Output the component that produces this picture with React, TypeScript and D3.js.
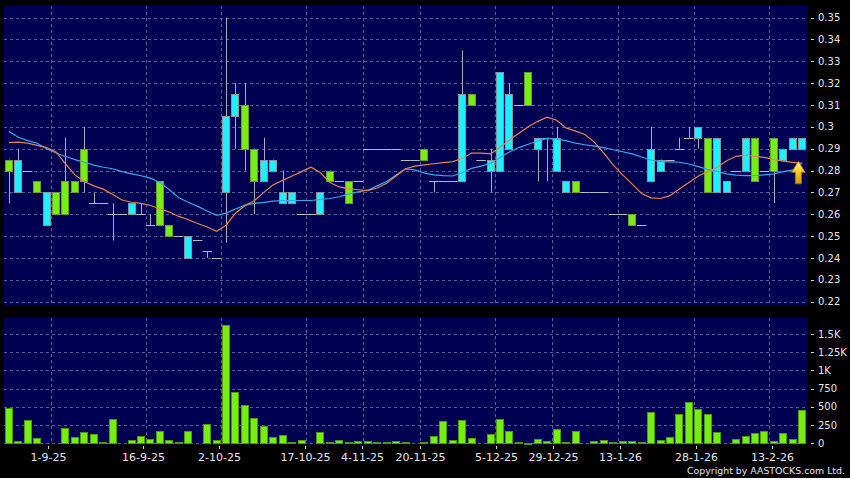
import React from 'react';
import * as d3 from 'd3';

// ---- data ----
const opens = [
  0.285, 0.27, 0.28, 0.275, 0.255, 0.27, 0.275, 0.275, 0.29, 0.265,
  0.265, 0.26, 0.26, 0.26, 0.26, 0.255, 0.275, 0.255, 0.25, 0.24,
  0.248, 0.243, 0.24, 0.27, 0.305, 0.31, 0.29, 0.275, 0.28, 0.265,
  0.265, 0.26, 0.26, 0.26, 0.28, 0.275, 0.275, 0.275, 0.29, 0.29,
  0.29, 0.29, 0.285, 0.285, 0.29, 0.275, 0.275, 0.275, 0.275, 0.315,
  0.285, 0.28, 0.28, 0.29, 0.31, 0.325, 0.29, 0.295, 0.28, 0.27,
  0.275, 0.27, 0.27, 0.27, 0.26, 0.26, 0.26, 0.255, 0.275, 0.28,
  0.285, 0.29, 0.295, 0.295, 0.295, 0.27, 0.27, 0.28, 0.28, 0.295,
  0.28, 0.295, 0.285, 0.29, 0.29,
];
const closes = [
  0.28, 0.285, 0.28, 0.27, 0.27, 0.26, 0.26, 0.27, 0.275, 0.265,
  0.265, 0.26, 0.26, 0.265, 0.26, 0.255, 0.255, 0.25, 0.25, 0.25,
  0.248, 0.243, 0.24, 0.305, 0.315, 0.29, 0.275, 0.285, 0.285, 0.27,
  0.27, 0.26, 0.26, 0.27, 0.275, 0.275, 0.265, 0.275, 0.29, 0.29,
  0.29, 0.29, 0.285, 0.285, 0.285, 0.275, 0.275, 0.275, 0.315, 0.31,
  0.285, 0.285, 0.325, 0.315, 0.31, 0.31, 0.295, 0.295, 0.295, 0.275,
  0.27, 0.27, 0.27, 0.27, 0.26, 0.26, 0.255, 0.255, 0.29, 0.285,
  0.285, 0.29, 0.295, 0.3, 0.27, 0.295, 0.275, 0.28, 0.295, 0.275,
  0.28, 0.28, 0.29, 0.295, 0.295,
];
const highs = [
  0.285, 0.29, 0.28, 0.275, 0.27, 0.27, 0.295, 0.275, 0.3, 0.27,
  0.265, 0.265, 0.26, 0.265, 0.265, 0.26, 0.275, 0.255, 0.25, 0.25,
  0.248, 0.243, 0.24, 0.35, 0.32, 0.32, 0.29, 0.295, 0.285, 0.28,
  0.27, 0.26, 0.26, 0.27, 0.28, 0.275, 0.275, 0.275, 0.29, 0.29,
  0.29, 0.29, 0.285, 0.285, 0.29, 0.275, 0.275, 0.275, 0.335, 0.315,
  0.285, 0.29, 0.325, 0.32, 0.31, 0.325, 0.295, 0.295, 0.3, 0.275,
  0.275, 0.27, 0.27, 0.27, 0.26, 0.26, 0.26, 0.255, 0.3, 0.285,
  0.285, 0.295, 0.3, 0.3, 0.295, 0.295, 0.275, 0.28, 0.295, 0.295,
  0.28, 0.295, 0.29, 0.295, 0.295,
];
const lows = [
  0.265, 0.27, 0.28, 0.27, 0.255, 0.26, 0.26, 0.27, 0.27, 0.265,
  0.265, 0.248, 0.26, 0.26, 0.26, 0.255, 0.255, 0.25, 0.25, 0.24,
  0.248, 0.24, 0.24, 0.247, 0.29, 0.28, 0.26, 0.275, 0.28, 0.265,
  0.265, 0.26, 0.26, 0.26, 0.275, 0.275, 0.265, 0.275, 0.29, 0.29,
  0.29, 0.29, 0.285, 0.285, 0.285, 0.27, 0.275, 0.275, 0.275, 0.31,
  0.285, 0.27, 0.28, 0.29, 0.31, 0.31, 0.275, 0.275, 0.28, 0.27,
  0.27, 0.27, 0.27, 0.27, 0.26, 0.26, 0.255, 0.255, 0.275, 0.28,
  0.285, 0.29, 0.295, 0.29, 0.27, 0.27, 0.27, 0.28, 0.28, 0.275,
  0.28, 0.265, 0.285, 0.29, 0.29,
];
const volumes = [
  480, 32, 320, 73, 0, 0, 210, 82, 155, 128,
  14, 330, 0, 50, 100, 55, 165, 46, 23, 165,
  0, 270, 41, 1618, 700, 520, 352, 242, 87, 115,
  18, 50, 0, 155, 18, 41, 23, 32, 37, 18,
  18, 32, 14, 0, 14, 105, 300, 46, 320, 78,
  0, 128, 334, 165, 14, 9, 55, 27, 197, 18,
  174, 0, 27, 46, 23, 32, 32, 23, 430, 46,
  82, 398, 571, 475, 407, 160, 0, 59, 96, 137,
  165, 37, 142, 64, 452,
];
// short moving average (orange)
const maShort = [
  0.2928, 0.293, 0.2925, 0.2915, 0.2905, 0.2885, 0.283, 0.278, 0.275, 0.273,
  0.2715, 0.269, 0.2665, 0.2655, 0.265, 0.264, 0.2625, 0.261, 0.259, 0.2575,
  0.2558, 0.2542, 0.2522, 0.255, 0.2605, 0.264, 0.2662, 0.27, 0.2735, 0.2755,
  0.2775, 0.2795, 0.2815, 0.279, 0.2745, 0.2725, 0.2716, 0.2712, 0.2708, 0.272,
  0.2742, 0.2775, 0.2808, 0.282, 0.2826, 0.2831, 0.2836, 0.2841, 0.2855, 0.288,
  0.288, 0.2876, 0.2905, 0.294, 0.297, 0.3, 0.3025, 0.3044, 0.303, 0.2995,
  0.298, 0.2965, 0.293, 0.288, 0.2825, 0.278, 0.2738, 0.2695, 0.2675, 0.2672,
  0.2685, 0.2715, 0.2745, 0.2775, 0.2795, 0.2815, 0.2845, 0.2865, 0.287, 0.2865,
  0.286, 0.285, 0.2843, 0.2837, 0.2833,
];
// long moving average (blue)
const maLong = [
  0.298, 0.2952, 0.2937, 0.2925, 0.29, 0.288, 0.2864, 0.285, 0.2838, 0.2825,
  0.2815, 0.2808, 0.2795, 0.2785, 0.2776, 0.2765, 0.2745, 0.2712, 0.2675, 0.2655,
  0.2636, 0.2615, 0.2595, 0.2605, 0.2624, 0.2642, 0.265, 0.2654, 0.266, 0.2663,
  0.2663, 0.2663, 0.2663, 0.2668, 0.2672, 0.268, 0.2693, 0.2702, 0.271, 0.273,
  0.275, 0.278, 0.2808, 0.2803, 0.2788, 0.278, 0.2777, 0.2775, 0.279, 0.281,
  0.282, 0.2832, 0.286, 0.2885, 0.2905, 0.292, 0.2935, 0.2947, 0.2944, 0.2937,
  0.2925, 0.2918, 0.2912, 0.2905, 0.2895, 0.2886, 0.2876, 0.2862, 0.2848, 0.2841,
  0.284, 0.2838, 0.283, 0.2818, 0.2805, 0.2796, 0.2785, 0.2779, 0.2777, 0.2777,
  0.278, 0.2785, 0.2795, 0.2802, 0.2808,
];
const dateTickIndex = [4, 14, 22, 31, 37, 43, 51, 57, 64, 72, 80];
const dateTickLabels = ['1-9-25', '16-9-25', '2-10-25', '17-10-25', '4-11-25', '20-11-25', '5-12-25', '29-12-25', '13-1-26', '28-1-26', '13-2-26'];
const priceTicks = [0.22, 0.23, 0.24, 0.25, 0.26, 0.27, 0.28, 0.29, 0.3, 0.31, 0.32, 0.33, 0.34, 0.35];
const priceTickLabels = ['0.22', '0.23', '0.24', '0.25', '0.26', '0.27', '0.28', '0.29', '0.3', '0.31', '0.32', '0.33', '0.34', '0.35'];
const volTicks = [0, 250, 500, 750, 1000, 1250, 1500];
const volTickLabels = ['0', '250', '500', '750', '1K', '1.25K', '1.5K'];

// ---- layout ----
const W = 850, H = 478;
const PL = 4, PR = 808;
const MT = 6, MB = 306;
const VT = 318, VB = 444;

const BG = '#000052';
const GRID = '#5a5a92';
const TXT = '#e6e6e6';
const CYAN = '#1ff0ff';
const LIME = '#77ee11';

export default function App() {
  const n = closes.length;
  const xs = d3.scaleLinear().domain([-0.5, n - 0.5]).range([4.1, 806.9]);
  const xAxis = d3.scaleLinear().domain([-0.5, n - 0.5]).range([0.03, 810.4]);
  const ps = d3.scaleLinear().domain([0.22, 0.35]).range([301.7, 17.5]);
  const vs = d3.scaleLinear().domain([0, 1500]).range([443.3, 334]);

  const lineGen = d3.line<number>().x((_, i) => xs(i)).y((d) => ps(d));
  const gridX = dateTickIndex.map((i) => Math.round(xs(i + 0.5)) + 0.5);

  const arrowX = xs(n - 1.4);
  const arrowY = ps(maShort[n - 1]) - 2;

  return (
    <div style={{ position: 'fixed', left: 0, top: 0, width: W, height: H, background: '#000' }}>
      <svg width={W} height={H} style={{ display: 'block' }} fontFamily="'DejaVu Sans', Verdana, sans-serif">
        <defs>
          <linearGradient id="arrowGrad" x1="0" y1="0" x2="0" y2="1">
            <stop offset="0" stopColor="#fff4a8" />
            <stop offset="0.45" stopColor="#f8cc22" />
            <stop offset="1" stopColor="#d89400" />
          </linearGradient>
          <clipPath id="mainClip"><rect x={PL} y={MT} width={PR - PL} height={MB - MT} /></clipPath>
        </defs>
        <rect x={0} y={0} width={W} height={H} fill="#000" />

        {/* main panel */}
        <rect x={PL} y={MT} width={PR - PL} height={MB - MT} fill={BG} />
        {priceTicks.map((p) => (
          <line key={'pg' + p} x1={PL} x2={PR} y1={Math.round(ps(p)) + 0.5} y2={Math.round(ps(p)) + 0.5}
            stroke={GRID} strokeDasharray="3,3" strokeWidth={1} />
        ))}
        {gridX.map((x, k) => (
          <line key={'mg' + k} x1={x} x2={x} y1={MT} y2={MB} stroke={GRID} strokeDasharray="3,3" strokeWidth={1} />
        ))}

        <g clipPath="url(#mainClip)">
          {/* wicks */}
          {closes.map((c, i) => {
            const x = Math.round(xs(i)) + 0.5;
            if (highs[i] === lows[i]) return null;
            return <line key={'w' + i} x1={x} x2={x} y1={ps(highs[i])} y2={ps(lows[i])} stroke="#a8a8c0" strokeWidth={1} />;
          })}
          {/* bodies */}
          {closes.map((c, i) => {
            const o = opens[i];
            const cx = xs(i);
            if (o === c) {
              const y = Math.round(ps(o)) + 0.5;
              return <line key={'b' + i} x1={cx - 4.7} x2={cx + 4.7} y1={y} y2={y} stroke="#b8b8cc" strokeWidth={1} />;
            }
            const up = c > o;
            const top = ps(Math.max(o, c));
            const bot = ps(Math.min(o, c));
            return (
              <rect key={'b' + i} x={Math.round(cx - 4) + 0.5} y={Math.round(top) + 0.5} width={7}
                height={Math.max(1, Math.round(bot) - Math.round(top))}
                fill={up ? CYAN : LIME} stroke={up ? '#7a9aa8' : '#6c9a3a'} strokeWidth={1} />
            );
          })}
          {/* moving averages */}
          <path d={lineGen(maLong) || ''} fill="none" stroke="#3ea6ee" strokeWidth={1.2} />
          <path d={lineGen(maShort) || ''} fill="none" stroke="#e0874e" strokeWidth={1.2} />
          {/* latest indicator arrow */}
          <path
            d={`M${arrowX},${arrowY} L${arrowX + 6.8},${arrowY + 11} L${arrowX + 3},${arrowY + 11} L${arrowX + 3},${arrowY + 22.5} L${arrowX - 3},${arrowY + 22.5} L${arrowX - 3},${arrowY + 11} L${arrowX - 6.8},${arrowY + 11} Z`}
            fill="url(#arrowGrad)" stroke="#b07800" strokeWidth={0.8} />
        </g>

        {/* price axis */}
        {priceTicks.map((p, k) => (
          <g key={'pt' + p}>
            <line x1={811} x2={814} y1={Math.round(ps(p)) + 0.5} y2={Math.round(ps(p)) + 0.5} stroke="#cfcfcf" />
            <text x={818} y={ps(p)} dy="0.36em" fontSize={10} fill={TXT}>{priceTickLabels[k]}</text>
          </g>
        ))}

        {/* volume panel */}
        <rect x={PL} y={VT} width={PR - PL} height={VB - VT} fill={BG} />
        {volTicks.map((v) => (
          <line key={'vg' + v} x1={PL} x2={PR} y1={Math.round(vs(v)) + 0.5} y2={Math.round(vs(v)) + 0.5}
            stroke={GRID} strokeDasharray="3,3" strokeWidth={1} />
        ))}
        {gridX.map((x, k) => (
          <line key={'vgx' + k} x1={x} x2={x} y1={VT} y2={VB} stroke={GRID} strokeDasharray="3,3" strokeWidth={1} />
        ))}
        {volumes.map((v, i) => {
          if (v <= 0) return null;
          const top = Math.round(vs(v));
          const base = Math.round(vs(0));
          return (
            <rect key={'v' + i} x={Math.round(xs(i) - 4) + 0.5} y={top + 0.5} width={7}
              height={Math.max(1, base - top)} fill={LIME} stroke="#4c9a12" strokeWidth={1} />
          );
        })}
        {volTicks.map((v, k) => (
          <g key={'vt' + v}>
            <line x1={811} x2={814} y1={Math.round(vs(v)) + 0.5} y2={Math.round(vs(v)) + 0.5} stroke="#cfcfcf" />
            <text x={818} y={vs(v)} dy="0.36em" fontSize={10} fill={TXT}>{volTickLabels[k]}</text>
          </g>
        ))}

        {/* date axis */}
        {dateTickIndex.map((i, k) => {
          const x = Math.round(xAxis(i + 0.5)) + 0.5;
          return (
            <g key={'dt' + k}>
              <line x1={x} x2={x} y1={446} y2={449} stroke="#cfcfcf" />
              <text x={x} y={457} dy="0.36em" textAnchor="middle" fontSize={11} fill={TXT}>{dateTickLabels[k]}</text>
            </g>
          );
        })}

        <text x={845} y={473.5} textAnchor="end" fontSize={9.5} fill={TXT} textLength={158} lengthAdjust="spacingAndGlyphs">
          Copyright by AASTOCKS.com Ltd.
        </text>
      </svg>
    </div>
  );
}
